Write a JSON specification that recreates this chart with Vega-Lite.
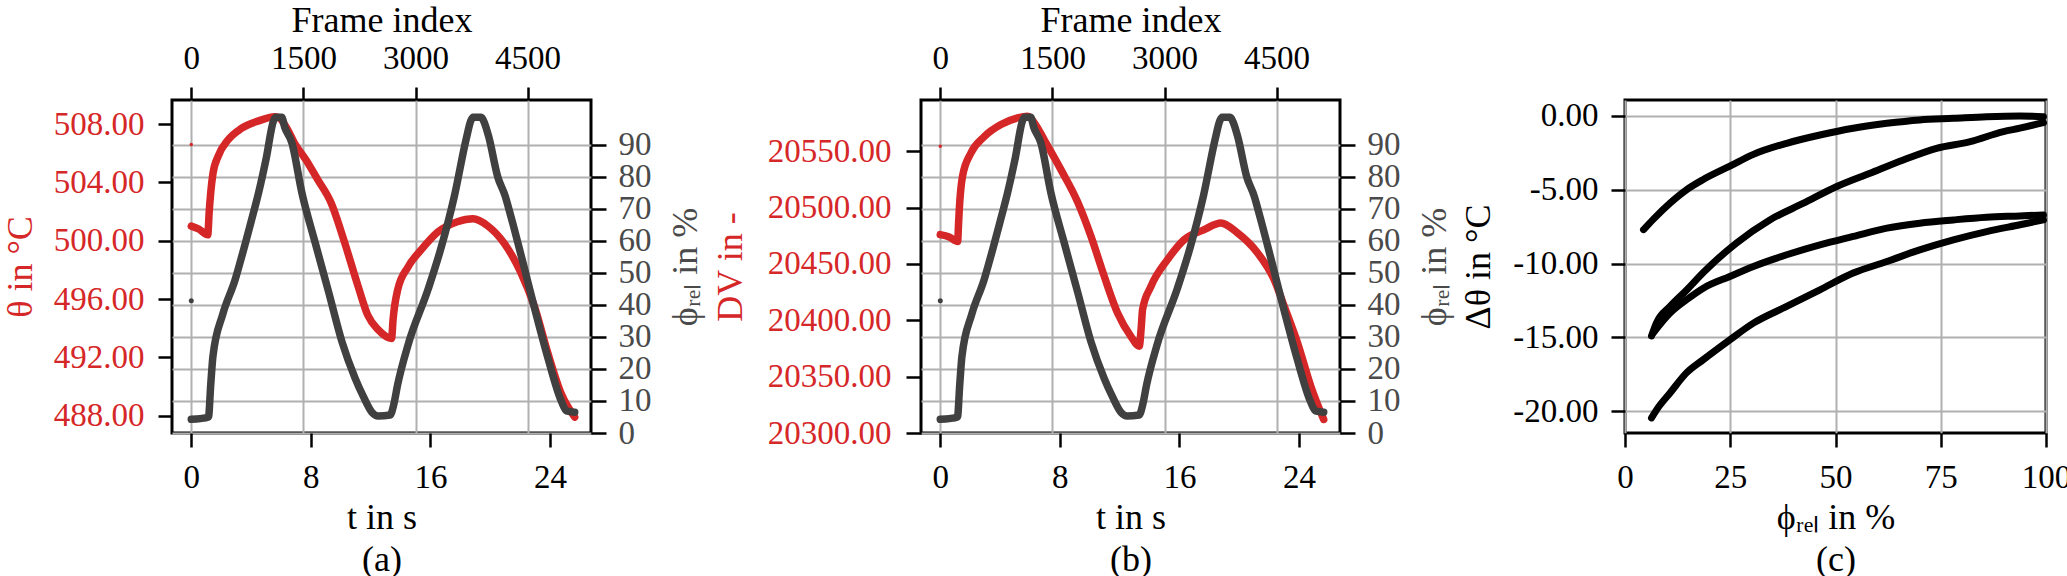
{
  "$schema": "https://vega.github.io/schema/vega-lite/v6.json",
  "padding": {"left": 0, "top": 0, "right": 0, "bottom": 0},
  "spacing": 5,
  "datasets": {
    "theta": [
      {"t": 0, "v": 501.0, "kind": "line"},
      {"t": 0.5, "v": 500.8, "kind": "line"},
      {"t": 1.1, "v": 500.4, "kind": "line"},
      {"t": 1.2, "v": 502.0, "kind": "line"},
      {"t": 1.3, "v": 503.3, "kind": "line"},
      {"t": 1.45, "v": 504.6, "kind": "line"},
      {"t": 1.8, "v": 505.8, "kind": "line"},
      {"t": 2.45, "v": 506.9, "kind": "line"},
      {"t": 3.35, "v": 507.7, "kind": "line"},
      {"t": 4.45, "v": 508.2, "kind": "line"},
      {"t": 5.6, "v": 508.5, "kind": "line"},
      {"t": 5.9, "v": 508.4, "kind": "line"},
      {"t": 6.4, "v": 507.7, "kind": "line"},
      {"t": 6.9, "v": 506.7, "kind": "line"},
      {"t": 7.7, "v": 505.5, "kind": "line"},
      {"t": 8.45, "v": 504.2, "kind": "line"},
      {"t": 9.35, "v": 502.6, "kind": "line"},
      {"t": 10.25, "v": 499.9, "kind": "line"},
      {"t": 11.15, "v": 496.9, "kind": "line"},
      {"t": 11.8, "v": 494.9, "kind": "line"},
      {"t": 12.5, "v": 493.9, "kind": "line"},
      {"t": 13.4, "v": 493.3, "kind": "line"},
      {"t": 13.5, "v": 494.6, "kind": "line"},
      {"t": 13.8, "v": 496.6, "kind": "line"},
      {"t": 14.5, "v": 498.2, "kind": "line"},
      {"t": 15.4, "v": 499.4, "kind": "line"},
      {"t": 16.5, "v": 500.6, "kind": "line"},
      {"t": 17.8, "v": 501.3, "kind": "line"},
      {"t": 18.85, "v": 501.5, "kind": "line"},
      {"t": 19.85, "v": 501.0, "kind": "line"},
      {"t": 20.95, "v": 499.8, "kind": "line"},
      {"t": 22.05, "v": 497.8, "kind": "line"},
      {"t": 22.95, "v": 495.5, "kind": "line"},
      {"t": 23.85, "v": 492.3, "kind": "line"},
      {"t": 24.75, "v": 489.5, "kind": "line"},
      {"t": 25.65, "v": 487.9, "kind": "line"},
      {"t": 0, "v": 506.6, "kind": "pt"}
    ],
    "dv": [
      {"t": 0, "v": 20476, "kind": "line"},
      {"t": 0.6, "v": 20474, "kind": "line"},
      {"t": 1.16, "v": 20470, "kind": "line"},
      {"t": 1.22, "v": 20485, "kind": "line"},
      {"t": 1.27, "v": 20498, "kind": "line"},
      {"t": 1.49, "v": 20528, "kind": "line"},
      {"t": 2.05, "v": 20548.5, "kind": "line"},
      {"t": 2.94, "v": 20563, "kind": "line"},
      {"t": 4.06, "v": 20573.7, "kind": "line"},
      {"t": 5.17, "v": 20579.6, "kind": "line"},
      {"t": 5.84, "v": 20581, "kind": "line"},
      {"t": 6.4, "v": 20573, "kind": "line"},
      {"t": 6.96, "v": 20560, "kind": "line"},
      {"t": 8.07, "v": 20533.7, "kind": "line"},
      {"t": 9.19, "v": 20505, "kind": "line"},
      {"t": 10.08, "v": 20474.6, "kind": "line"},
      {"t": 10.97, "v": 20439, "kind": "line"},
      {"t": 11.86, "v": 20406.5, "kind": "line"},
      {"t": 12.75, "v": 20385.8, "kind": "line"},
      {"t": 13.31, "v": 20377, "kind": "line"},
      {"t": 13.45, "v": 20395, "kind": "line"},
      {"t": 13.53, "v": 20409.5, "kind": "line"},
      {"t": 14.09, "v": 20430, "kind": "line"},
      {"t": 15.2, "v": 20453.8, "kind": "line"},
      {"t": 16.32, "v": 20471.6, "kind": "line"},
      {"t": 17.66, "v": 20480.5, "kind": "line"},
      {"t": 18.77, "v": 20486.4, "kind": "line"},
      {"t": 19.89, "v": 20477.5, "kind": "line"},
      {"t": 21.23, "v": 20459.8, "kind": "line"},
      {"t": 22.34, "v": 20436, "kind": "line"},
      {"t": 23.01, "v": 20412.4, "kind": "line"},
      {"t": 23.9, "v": 20380, "kind": "line"},
      {"t": 24.79, "v": 20341.4, "kind": "line"},
      {"t": 25.65, "v": 20312, "kind": "line"},
      {"t": 0, "v": 20554.4, "kind": "pt"}
    ],
    "phi": [
      {"frame": 0, "phi": 4.3, "kind": "line"},
      {"frame": 120, "phi": 4.5, "kind": "line"},
      {"frame": 230, "phi": 5.0, "kind": "line"},
      {"frame": 260, "phi": 15, "kind": "line"},
      {"frame": 290, "phi": 24, "kind": "line"},
      {"frame": 420, "phi": 37, "kind": "line"},
      {"frame": 588, "phi": 48, "kind": "line"},
      {"frame": 646, "phi": 52.7, "kind": "line"},
      {"frame": 800, "phi": 66, "kind": "line"},
      {"frame": 900, "phi": 75, "kind": "line"},
      {"frame": 1004, "phi": 86, "kind": "line"},
      {"frame": 1100, "phi": 97.5, "kind": "line"},
      {"frame": 1130, "phi": 98.6, "kind": "line"},
      {"frame": 1210, "phi": 98.6, "kind": "line"},
      {"frame": 1250, "phi": 95.5, "kind": "line"},
      {"frame": 1346, "phi": 90.6, "kind": "line"},
      {"frame": 1480, "phi": 75, "kind": "line"},
      {"frame": 1658, "phi": 59.4, "kind": "line"},
      {"frame": 1838, "phi": 44, "kind": "line"},
      {"frame": 2016, "phi": 28.5, "kind": "line"},
      {"frame": 2194, "phi": 17, "kind": "line"},
      {"frame": 2300, "phi": 11.5, "kind": "line"},
      {"frame": 2416, "phi": 6.5, "kind": "line"},
      {"frame": 2500, "phi": 5.3, "kind": "line"},
      {"frame": 2660, "phi": 5.6, "kind": "line"},
      {"frame": 2710, "phi": 9, "kind": "line"},
      {"frame": 2760, "phi": 15, "kind": "line"},
      {"frame": 2900, "phi": 27.5, "kind": "line"},
      {"frame": 3170, "phi": 45, "kind": "line"},
      {"frame": 3344, "phi": 58, "kind": "line"},
      {"frame": 3520, "phi": 74, "kind": "line"},
      {"frame": 3680, "phi": 92, "kind": "line"},
      {"frame": 3740, "phi": 97.5, "kind": "line"},
      {"frame": 3770, "phi": 98.6, "kind": "line"},
      {"frame": 3880, "phi": 98.6, "kind": "line"},
      {"frame": 3920, "phi": 97, "kind": "line"},
      {"frame": 3980, "phi": 92.5, "kind": "line"},
      {"frame": 4100, "phi": 80, "kind": "line"},
      {"frame": 4200, "phi": 74, "kind": "line"},
      {"frame": 4280, "phi": 67.3, "kind": "line"},
      {"frame": 4440, "phi": 53, "kind": "line"},
      {"frame": 4600, "phi": 38.3, "kind": "line"},
      {"frame": 4780, "phi": 22.7, "kind": "line"},
      {"frame": 4950, "phi": 10, "kind": "line"},
      {"frame": 5020, "phi": 6.9, "kind": "line"},
      {"frame": 5130, "phi": 6.5, "kind": "line"},
      {"frame": 0, "phi": 41.3, "kind": "pt"}
    ],
    "loops": [
      {"branch": 1, "phi": 4.4, "d": -7.7},
      {"branch": 1, "phi": 6.7, "d": -7.0},
      {"branch": 1, "phi": 10.7, "d": -5.9},
      {"branch": 1, "phi": 14.6, "d": -5.0},
      {"branch": 1, "phi": 18.6, "d": -4.3},
      {"branch": 1, "phi": 24.9, "d": -3.4},
      {"branch": 1, "phi": 30.5, "d": -2.6},
      {"branch": 1, "phi": 38.4, "d": -1.85},
      {"branch": 1, "phi": 46.3, "d": -1.29},
      {"branch": 1, "phi": 54.2, "d": -0.83},
      {"branch": 1, "phi": 62.2, "d": -0.5},
      {"branch": 1, "phi": 70, "d": -0.27},
      {"branch": 1, "phi": 78, "d": -0.16},
      {"branch": 1, "phi": 85.9, "d": -0.05},
      {"branch": 1, "phi": 93.8, "d": 0.0},
      {"branch": 1, "phi": 99.4, "d": -0.05},
      {"branch": 2, "phi": 6.3, "d": -14.9},
      {"branch": 2, "phi": 7.5, "d": -14.0},
      {"branch": 2, "phi": 10.7, "d": -12.9},
      {"branch": 2, "phi": 14.6, "d": -11.8},
      {"branch": 2, "phi": 18.6, "d": -10.6},
      {"branch": 2, "phi": 26.5, "d": -8.6},
      {"branch": 2, "phi": 34.4, "d": -7.04},
      {"branch": 2, "phi": 42.4, "d": -5.91},
      {"branch": 2, "phi": 50.3, "d": -4.78},
      {"branch": 2, "phi": 58.2, "d": -3.88},
      {"branch": 2, "phi": 66.1, "d": -2.98},
      {"branch": 2, "phi": 74, "d": -2.19},
      {"branch": 2, "phi": 82, "d": -1.74},
      {"branch": 2, "phi": 89.9, "d": -1.06},
      {"branch": 2, "phi": 93.8, "d": -0.83},
      {"branch": 2, "phi": 99.4, "d": -0.45},
      {"branch": 3, "phi": 6.7, "d": -14.7},
      {"branch": 3, "phi": 10.7, "d": -13.35},
      {"branch": 3, "phi": 14.6, "d": -12.45},
      {"branch": 3, "phi": 18.6, "d": -11.66},
      {"branch": 3, "phi": 24.9, "d": -10.87},
      {"branch": 3, "phi": 30.5, "d": -10.19},
      {"branch": 3, "phi": 38.4, "d": -9.4},
      {"branch": 3, "phi": 46.3, "d": -8.73},
      {"branch": 3, "phi": 54.2, "d": -8.16},
      {"branch": 3, "phi": 62.2, "d": -7.6},
      {"branch": 3, "phi": 70, "d": -7.26},
      {"branch": 3, "phi": 78, "d": -7.04},
      {"branch": 3, "phi": 85.9, "d": -6.86},
      {"branch": 3, "phi": 93.8, "d": -6.77},
      {"branch": 3, "phi": 99.4, "d": -6.7},
      {"branch": 4, "phi": 6.3, "d": -20.45},
      {"branch": 4, "phi": 7.5, "d": -19.9},
      {"branch": 4, "phi": 10.7, "d": -18.76},
      {"branch": 4, "phi": 14.6, "d": -17.4},
      {"branch": 4, "phi": 18.6, "d": -16.5},
      {"branch": 4, "phi": 24.9, "d": -15.16},
      {"branch": 4, "phi": 30.5, "d": -14.03},
      {"branch": 4, "phi": 38.4, "d": -12.9},
      {"branch": 4, "phi": 46.3, "d": -11.77},
      {"branch": 4, "phi": 54.2, "d": -10.64},
      {"branch": 4, "phi": 62.2, "d": -9.86},
      {"branch": 4, "phi": 70, "d": -9.07},
      {"branch": 4, "phi": 78, "d": -8.39},
      {"branch": 4, "phi": 85.9, "d": -7.83},
      {"branch": 4, "phi": 93.8, "d": -7.37},
      {"branch": 4, "phi": 99.4, "d": -7.04}
    ]
  },
  "hconcat": [
    {
      "width": 419,
      "height": 333,
      "layer": [
        {
          "data": {"name": "theta"},
          "encoding": {
            "x": {
              "field": "t", "type": "quantitative",
              "scale": {"domain": [-1.29, 26.74], "nice": false, "zero": false},
              "axis": {"orient": "bottom", "values": [0, 8, 16, 24], "grid": false,
                       "title": ["t in s", "(a)"], "labelPadding": 14, "titlePadding": 6}
            },
            "y": {
              "field": "v", "type": "quantitative",
              "scale": {"domain": [486.81, 509.65], "nice": false, "zero": false},
              "axis": {"orient": "left", "values": [488, 492, 496, 500, 504, 508], "format": ".2f",
                       "grid": false, "title": "θ in °C", "labelColor": "#d62728", "titleColor": "#d62728",
                       "labelPadding": 14, "titlePadding": 14}
            }
          },
          "layer": [
            {"transform": [{"filter": "datum.kind == 'line'"}],
             "mark": {"type": "line", "color": "#d62728", "strokeWidth": 7.5, "strokeCap": "round", "strokeJoin": "round", "interpolate": "monotone"}},
            {"transform": [{"filter": "datum.kind == 'pt'"}],
             "mark": {"type": "point", "filled": true, "size": 12, "color": "#d62728", "opacity": 1}}
          ]
        },
        {
          "data": {"name": "phi"},
          "encoding": {
            "x": {
              "field": "frame", "type": "quantitative",
              "scale": {"domain": [-258, 5348], "nice": false, "zero": false},
              "axis": {"orient": "top", "values": [0, 1500, 3000, 4500], "format": "d", "grid": true,
                       "title": "Frame index", "tickSize": 13, "labelPadding": 12, "titlePadding": 3}
            },
            "y": {
              "field": "phi", "type": "quantitative",
              "scale": {"domain": [0, 104], "nice": false, "zero": false},
              "axis": {"orient": "right", "values": [0, 10, 20, 30, 40, 50, 60, 70, 80, 90], "grid": true,
                       "title": "ϕᵣₑₗ in %", "labelColor": "#4a4a4a", "titleColor": "#4a4a4a",
                       "tickSize": 15, "labelPadding": 12, "titlePadding": 17,
                       "titleAngle": -90, "titleBaseline": "top"}
            }
          },
          "layer": [
            {"transform": [{"filter": "datum.kind == 'line'"}],
             "mark": {"type": "line", "color": "#404040", "strokeWidth": 7.5, "strokeCap": "round", "strokeJoin": "round", "interpolate": "monotone"}},
            {"transform": [{"filter": "datum.kind == 'pt'"}],
             "mark": {"type": "point", "filled": true, "size": 25, "color": "#404040", "opacity": 1}}
          ]
        }
      ],
      "resolve": {"scale": {"x": "independent", "y": "independent"}}
    },
    {
      "width": 419,
      "height": 333,
      "layer": [
        {
          "data": {"name": "dv"},
          "encoding": {
            "x": {
              "field": "t", "type": "quantitative",
              "scale": {"domain": [-1.29, 26.74], "nice": false, "zero": false},
              "axis": {"orient": "bottom", "values": [0, 8, 16, 24], "grid": false,
                       "title": ["t in s", "(b)"], "labelPadding": 14, "titlePadding": 6}
            },
            "y": {
              "field": "v", "type": "quantitative",
              "scale": {"domain": [20300, 20595.5], "nice": false, "zero": false},
              "axis": {"orient": "left", "values": [20300, 20350, 20400, 20450, 20500, 20550], "format": ".2f",
                       "grid": false, "title": "DV in -", "labelColor": "#d62728", "titleColor": "#d62728",
                       "tickSize": 15, "labelPadding": 15, "titlePadding": 18}
            }
          },
          "layer": [
            {"transform": [{"filter": "datum.kind == 'line'"}],
             "mark": {"type": "line", "color": "#d62728", "strokeWidth": 7.5, "strokeCap": "round", "strokeJoin": "round", "interpolate": "monotone"}},
            {"transform": [{"filter": "datum.kind == 'pt'"}],
             "mark": {"type": "point", "filled": true, "size": 12, "color": "#d62728", "opacity": 1}}
          ]
        },
        {
          "data": {"name": "phi"},
          "encoding": {
            "x": {
              "field": "frame", "type": "quantitative",
              "scale": {"domain": [-258, 5348], "nice": false, "zero": false},
              "axis": {"orient": "top", "values": [0, 1500, 3000, 4500], "format": "d", "grid": true,
                       "title": "Frame index", "tickSize": 13, "labelPadding": 12, "titlePadding": 3}
            },
            "y": {
              "field": "phi", "type": "quantitative",
              "scale": {"domain": [0, 104], "nice": false, "zero": false},
              "axis": {"orient": "right", "values": [0, 10, 20, 30, 40, 50, 60, 70, 80, 90], "grid": true,
                       "title": "ϕᵣₑₗ in %", "labelColor": "#4a4a4a", "titleColor": "#4a4a4a",
                       "tickSize": 15, "labelPadding": 12, "titlePadding": 17,
                       "titleAngle": -90, "titleBaseline": "top"}
            }
          },
          "layer": [
            {"transform": [{"filter": "datum.kind == 'line'"}],
             "mark": {"type": "line", "color": "#404040", "strokeWidth": 7.5, "strokeCap": "round", "strokeJoin": "round", "interpolate": "monotone"}},
            {"transform": [{"filter": "datum.kind == 'pt'"}],
             "mark": {"type": "point", "filled": true, "size": 25, "color": "#404040", "opacity": 1}}
          ]
        }
      ],
      "resolve": {"scale": {"x": "independent", "y": "independent"}}
    },
    {
      "width": 421,
      "height": 333,
      "data": {"name": "loops"},
      "mark": {"type": "line", "color": "black", "strokeWidth": 7, "strokeCap": "round", "interpolate": "monotone"},
      "encoding": {
        "x": {
          "field": "phi", "type": "quantitative",
          "scale": {"domain": [0, 100], "nice": false, "zero": false},
          "axis": {"values": [0, 25, 50, 75, 100], "grid": true, "title": ["ϕᵣₑₗ in %", "(c)"],
                   "labelPadding": 14, "titlePadding": 6}
        },
        "y": {
          "field": "d", "type": "quantitative",
          "scale": {"domain": [-21.47, 1.08], "nice": false, "zero": false},
          "axis": {"values": [-20, -15, -10, -5, 0], "grid": true, "title": "Δθ in °C",
                   "labelExpr": "replace(format(datum.value, '.2f'), '\u2212', '-')",
                   "labelPadding": 13, "titlePadding": 15}
        },
        "detail": {"field": "branch", "type": "nominal"},
        "order": {"field": "phi", "type": "quantitative"}
      }
    }
  ],
  "config": {
    "font": "Liberation Serif",
    "view": {"stroke": "black", "strokeWidth": 3},
    "axis": {
      "domain": false,
      "tickColor": "black",
      "tickWidth": 2.5,
      "tickSize": 14,
      "labelFontSize": 33,
      "titleFontSize": 36,
      "titleFontWeight": "normal",
      "labelColor": "black",
      "titleColor": "black",
      "gridColor": "#b0b0b0",
      "gridWidth": 2,
      "labelFlush": false,
      "labelOverlap": false,
      "titleLineHeight": 42
    }
  }
}
